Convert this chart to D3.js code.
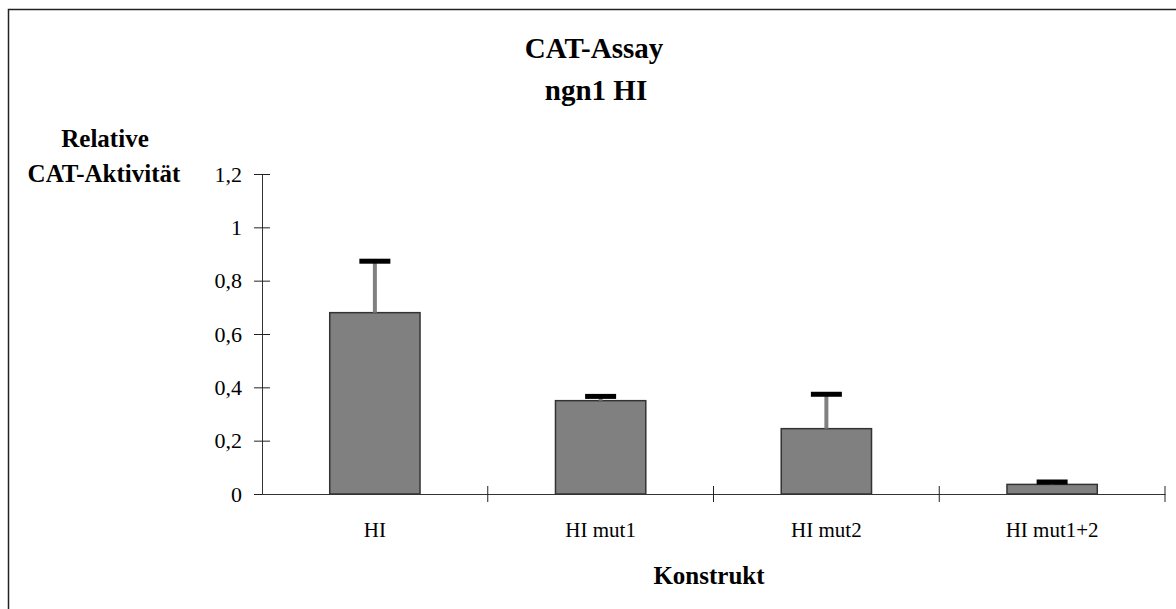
<!DOCTYPE html>
<html><head><meta charset="utf-8">
<script src="https://cdn.jsdelivr.net/npm/d3@7"></script>
<style>body{margin:0;background:#fff}svg{display:block;font-family:"Liberation Serif","Times New Roman",serif}</style>
</head><body>
<svg id="c" width="1176" height="609"></svg>
<script>
const categories = ["HI", "HI mut1", "HI mut2", "HI mut1+2"];
const values = [0.68, 0.35, 0.245, 0.036];
const errors = [0.193, 0.016, 0.129, 0.009];
const yTicks = [0, 0.2, 0.4, 0.6, 0.8, 1, 1.2];
const yTickLabels = ["0", "0,2", "0,4", "0,6", "0,8", "1", "1,2"];

const svg = d3.select("#c");
svg.append("rect").attr("x", 8.5).attr("y", 9.5).attr("width", 1300).attr("height", 800)
  .attr("fill", "#fff").attr("stroke", "#222").attr("stroke-width", 1.5);

const x = d3.scaleBand().domain(categories).range([262, 1165]).paddingInner(0.6).paddingOuter(0.3);
const xb = d3.scaleBand().domain(categories).range([262, 1165]);
const y = d3.scaleLinear().domain([0, 1.2]).range([494, 174]);

// bars
svg.selectAll("rect.bar").data(categories).join("rect").attr("class", "bar")
  .attr("x", d => x(d)).attr("width", x.bandwidth())
  .attr("y", (d, i) => y(values[i])).attr("height", (d, i) => y(0) - y(values[i]))
  .attr("fill", "#808080").attr("stroke", "#333").attr("stroke-width", 1.5);

// error bars
const cx = d => x(d) + x.bandwidth() / 2;
svg.selectAll("line.err").data(categories).join("line").attr("class", "err")
  .attr("x1", cx).attr("x2", cx)
  .attr("y1", (d, i) => y(values[i])).attr("y2", (d, i) => y(values[i] + errors[i]))
  .attr("stroke", "#808080").attr("stroke-width", 4);
svg.selectAll("rect.cap").data(categories).join("rect").attr("class", "cap")
  .attr("x", d => cx(d) - 15.5).attr("width", 31)
  .attr("y", (d, i) => y(values[i] + errors[i]) - 2.5).attr("height", 5)
  .attr("fill", "#000");

// y axis
const yAxis = d3.axisLeft(y).tickValues(yTicks).tickFormat((d, i) => yTickLabels[i]).tickSize(0).tickPadding(20);
const gy = svg.append("g").attr("transform", "translate(262,0)").call(yAxis);
gy.attr("font-family", "Liberation Serif");
gy.select(".domain").attr("stroke", "#333");
gy.selectAll(".tick line").attr("x1", -8).attr("x2", 8).attr("stroke", "#222");
gy.selectAll(".tick text").attr("font-size", 22).attr("fill", "#000");

// x axis
const xAxis = d3.axisBottom(xb).tickSize(0).tickPadding(28);
const gx = svg.append("g").attr("transform", "translate(0,494)").call(xAxis);
gx.attr("font-family", "Liberation Serif");
gx.select(".domain").attr("stroke", "#333");
gx.selectAll(".tick line").remove();
gx.selectAll(".tick text").attr("font-size", 21).attr("fill", "#000");
const bounds = categories.map(d => xb(d)).concat([xb.range()[1]]);
gx.selectAll("line.bt").data(bounds.slice(1)).join("line").attr("class", "bt")
  .attr("x1", d => d).attr("x2", d => d).attr("y1", -8).attr("y2", 8).attr("stroke", "#222");

// titles
const t = svg.append("g").attr("font-family", "Liberation Serif").attr("font-weight", "bold").attr("fill", "#000").attr("text-anchor", "middle");
t.append("text").attr("x", 594).attr("y", 58).attr("font-size", 29).text("CAT-Assay");
t.append("text").attr("x", 596).attr("y", 100).attr("font-size", 29).text("ngn1 HI");
t.append("text").attr("x", 105).attr("y", 147).attr("font-size", 25).text("Relative");
t.append("text").attr("x", 104).attr("y", 182).attr("font-size", 25).text("CAT-Aktivität");
t.append("text").attr("x", 709).attr("y", 584).attr("font-size", 25).text("Konstrukt");
</script>
</body></html>
